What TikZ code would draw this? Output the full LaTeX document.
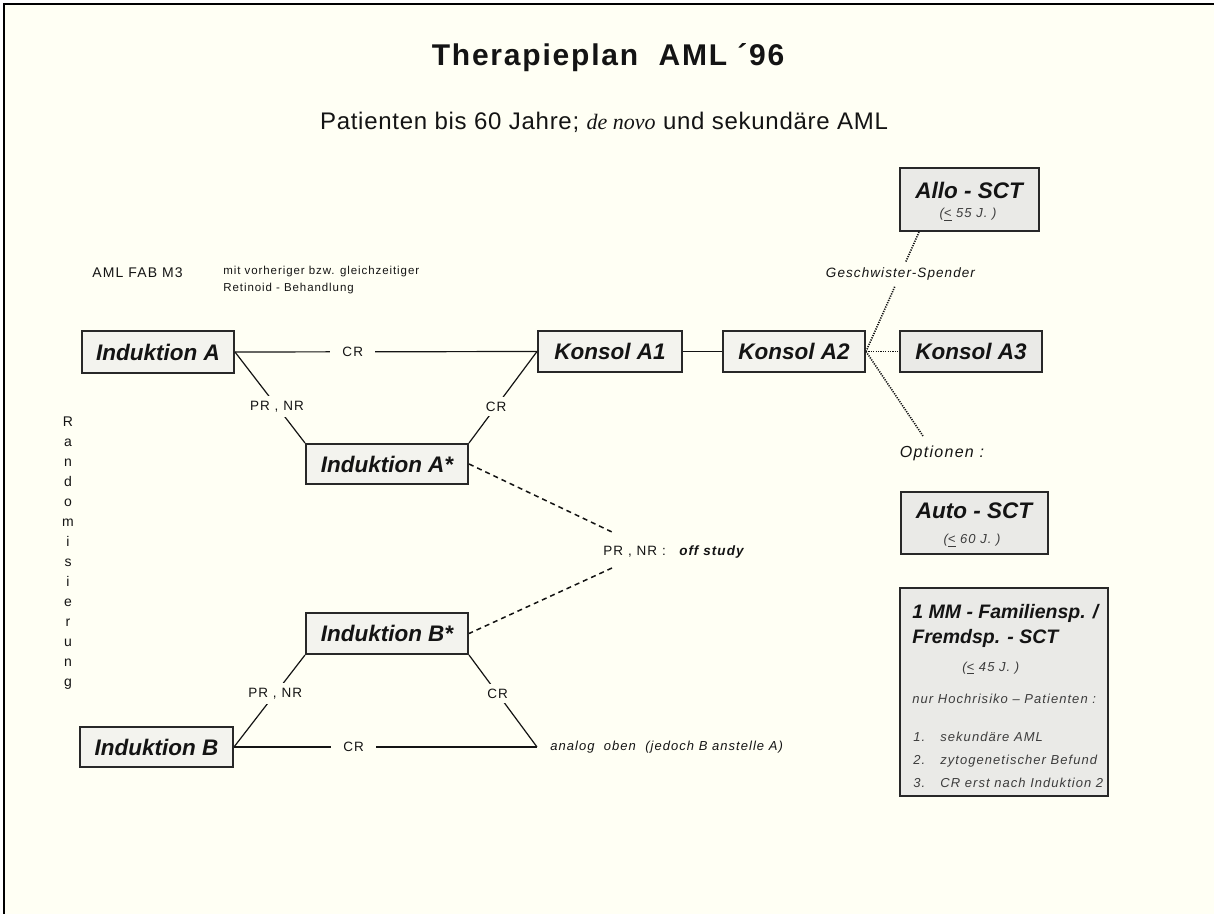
\documentclass[tikz,border=0pt]{standalone}
\usepackage{fontspec}
\setmainfont{Liberation Sans}
\newfontfamily\lsf[LetterSpace=8]{Liberation Sans}
\newfontfamily\lsfb[LetterSpace=3]{Liberation Sans}
\newfontfamily\titlef[LetterSpace=6]{Liberation Sans}
\newfontfamily\serifit{Liberation Serif}
\usetikzlibrary{calc}
\definecolor{bgc}{RGB}{255,255,244}
\definecolor{boxa}{RGB}{243,243,238}
\definecolor{boxb}{RGB}{234,234,231}
\definecolor{edge}{RGB}{40,40,40}
\definecolor{ink}{RGB}{20,20,20}
\definecolor{subink}{RGB}{60,60,60}
\begin{document}
\begin{tikzpicture}[x=0.5pt,y=-0.5pt,
  box/.style={draw=edge, line width=1pt, fill=boxa, inner sep=0pt, text=ink,
    font=\fontsize{11.25}{13}\selectfont\bfseries\itshape},
  boxg/.style={box, fill=boxb},
  bw/.style={minimum width=#1*0.5pt},
  bh/.style={minimum height=#1*0.5pt},
  btitle/.style={inner sep=0pt, text=ink, font=\fontsize{11.25}{13}\selectfont\bfseries\itshape},
  mtitle/.style={inner sep=0pt, anchor=base west, text=ink, font=\fontsize{9.75}{12}\selectfont\bfseries\itshape},
  sub/.style={inner sep=0pt, text=subink, font=\lsf\fontsize{6.5}{8}\selectfont\itshape},
  msmall/.style={inner sep=0pt, anchor=base west, text=subink, font=\lsf\fontsize{6.5}{8}\selectfont\itshape},
  conn/.style={line width=0.6pt, draw=ink},
  dotc/.style={line width=0.8pt, draw=ink, dash pattern=on 0.6pt off 0.6pt},
  dashc/.style={line width=0.75pt, draw=ink, dash pattern=on 2.5pt off 2pt},
  lbl/.style={fill=bgc, inner xsep=6pt, inner ysep=2.5pt, text=ink, font=\lsf\fontsize{6.75}{8}\selectfont},
  ilbl/.style={fill=bgc, inner xsep=1pt, inner ysep=3pt, text=ink, font=\lsf\fontsize{6.75}{8}\selectfont\itshape}
]
\useasboundingbox (0,0) rectangle (1214,914);
\fill[white] (0,0) rectangle (1214,914);
\fill[bgc] (4,4) rectangle (1214,914);
\draw[line width=1pt] (4,914) -- (4,4) -- (1214,4);

% titles
\node[inner sep=0, text=ink, font=\titlef\fontsize{15}{17}\selectfont\bfseries] (title) at (608,58) {Therapieplan\ \ AML ´96};
\node[inner sep=0, text=ink, font=\lsfb\fontsize{12}{14}\selectfont] (subt) at (604,122)
  {Patienten bis 60 Jahre; {\serifit\itshape\fontsize{11}{14}\selectfont de novo} und sekundäre AML};

% top left notes
\node[anchor=west, inner sep=0, text=ink, font=\lsf\fontsize{7}{8}\selectfont] (fab) at (92,273) {AML FAB M3};
\node[anchor=north west, align=left, inner sep=0, text=ink, font=\lsf\fontsize{5.75}{8.5}\selectfont] (ret) at (223,266)
  {mit vorheriger bzw. gleichzeitiger\\Retinoid - Behandlung};

% Randomisierung
\foreach \c [count=\i from 0] in {R,a,n,d,o,m,i,s,i,e,r,u,n,g}
  \node[anchor=base, inner sep=0, text=ink, font=\fontsize{7}{8}\selectfont] (rnd\i) at (68,{426+20*\i}) {\c};

% boxes
\node[box, bw=152, bh=42] (iA) at (158,352) {Induktion A};
\node[box, bw=144, bh=41] (k1) at (610,351.5) {Konsol A1};
\node[box, bw=142, bh=41] (k2) at (794,351.5) {Konsol A2};
\node[boxg, bw=142, bh=41] (k3) at (971,351.5) {Konsol A3};
\node[box, bw=162, bh=40] (iAs) at (387,464) {Induktion A*};
\node[box, bw=162, bh=41] (iBs) at (387,633.5) {Induktion B*};
\node[box, bw=153, bh=40] (iB) at (156.5,747) {Induktion B};

\node[boxg, bw=139, bh=63] (allo) at (969.5,199.5) {};
\node[btitle] (alloT) at (969,190) {Allo - SCT};
\node[sub] (alloS) at (968,215) {(\underline{<} 55 J. )};

\node[boxg, bw=147, bh=62] (auto) at (974.5,523) {};
\node[btitle] (autoT) at (974,511) {Auto - SCT};
\node[sub] (autoS) at (972,541) {(\underline{<} 60 J. )};

\node[boxg, bw=208, bh=208] (mm) at (1004,692) {};
\node[mtitle] (mmA) at (912,618) {1 MM - Familiensp. /};
\node[mtitle] (mmB) at (912,643) {Fremdsp. - SCT};
\node[msmall] (mmC) at (962,671) {(\underline{<} 45 J. )};
\node[msmall] (mmD) at (912,703) {nur Hochrisiko – Patienten :};
\node[msmall] (mm1n) at (913,741) {1.};
\node[msmall] (mm1t) at (940,741) {sekundäre AML};
\node[msmall] (mm2n) at (913,764) {2.};
\node[msmall] (mm2t) at (940,764) {zytogenetischer Befund};
\node[msmall] (mm3n) at (913,787) {3.};
\node[msmall] (mm3t) at (940,787) {CR erst nach Induktion 2};

% free text nodes
\node[inner sep=0, text=ink, font=\lsf\fontsize{8}{10}\selectfont\itshape] (opt) at (942,453) {Optionen :};
\coordinate (oend) at (923,436);
\coordinate (c1) at (612,532);
\coordinate (c2) at (612,568);
\node[anchor=west, inner sep=0, text=ink, font=\lsf\fontsize{6.75}{8}\selectfont] (off) at (603,552)
  {PR , NR :\quad{\bfseries\itshape off study}};
\node[anchor=west, inner xsep=6.5pt, inner ysep=0pt, text=ink, font=\lsf\fontsize{6.5}{8}\selectfont\itshape] (an) at (537,747)
  {analog\ \ oben\ \ (jedoch B anstelle A)};

% connectors
\draw[conn] (iA.east) -- node[lbl, pos=0.39] (lcr1) {CR} (k1.west);
\draw[conn] (iA.east) -- node[lbl, pos=0.6] (lpr1) {PR , NR} (iAs.north west);
\draw[conn] (k1.west) -- node[lbl, pos=0.6] (lcr2) {CR} (iAs.north east);
\draw[conn] (k1.east) -- (k2.west);
\draw[dotc] (k2.east) -- (k3.west);
\draw[dotc] (k2.east) -- node[ilbl, pos=0.65] (lgs) {Geschwister-Spender} ($(allo.south west)+(20,0)$);
\draw[dotc] (k2.east) -- (oend);
\draw[dashc] (iAs.east) -- (c1);
\draw[dashc] (c2) -- (iBs.east);
\draw[conn] (iBs.south west) -- node[lbl, pos=0.42] (lpr2) {PR , NR} (iB.east);
\draw[conn] (iBs.south east) -- node[lbl, pos=0.42] (lcr3) {CR} (an.west);
\draw[conn] (iB.east) -- node[lbl, pos=0.395] (lcr4) {CR} (an.west);
\end{tikzpicture}
\end{document}
